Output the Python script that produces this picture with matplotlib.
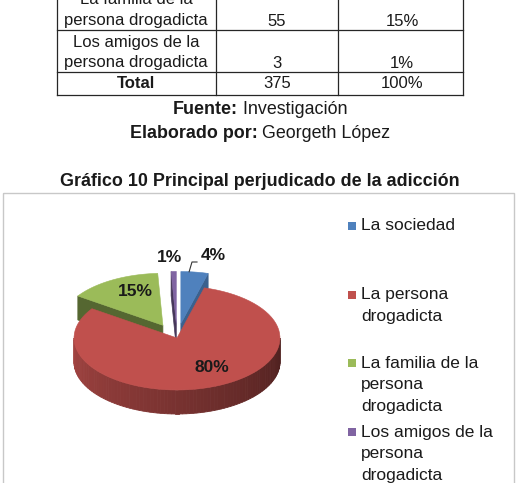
import numpy as np
import matplotlib.pyplot as plt
from matplotlib.patches import Polygon, Rectangle
from matplotlib.colors import to_rgb

plt.rcParams['font.family'] = ['Liberation Sans', 'DejaVu Sans']

# datos de la tabla (parte visible)
tabla_col1 = [['La familia de la', 'persona drogadicta'],
              ['Los amigos de la', 'persona drogadicta'],
              ['Total']]
tabla_frec = ['55', '3', '375']
tabla_pct = ['15%', '1%', '100%']

# datos del grafico
categorias = [['La sociedad'],
              ['La persona', 'drogadicta'],
              ['La familia de la', 'persona', 'drogadicta'],
              ['Los amigos de la', 'persona', 'drogadicta']]
frecuencia = [16, 301, 55, 3]
colores = ['#4F81BD', '#C0504D', '#9BBB59', '#8064A2']
explode = [0.28, 0.0, 0.28, 0.28]

fig = plt.figure(figsize=(5.16, 4.83), dpi=100)
ax = fig.add_axes([0, 0, 1, 1])
ax.set_xlim(0, 516)
ax.set_ylim(483, 0)
ax.axis('off')

txt = '#1a1a1a'

# ---- tabla ----
xs = [57, 216, 338, 463]
for y in [30, 72, 95]:
    ax.plot([xs[0], xs[-1]], [y, y], color='#262626', lw=0.9)
for x in xs:
    ax.plot([x, x], [-5, 95], color='#262626', lw=0.9)

fila_y = [0, 42, 84]
for i, lineas in enumerate(tabla_col1):
    peso = 'bold' if lineas[0] == 'Total' else 'normal'
    for j, l in enumerate(lineas):
        ax.text(136, fila_y[i] + 21 * j, l, ha='center', va='center',
                fontsize=12, color=txt, weight=peso)
    yb = fila_y[i] + 21 * (len(lineas) - 1)
    ax.text(277, yb, tabla_frec[i], ha='center', va='center', fontsize=12, color=txt)
    ax.text(402, yb, tabla_pct[i], ha='center', va='center', fontsize=12, color=txt)

# fuente / elaborado
def linea_mixta(y, negrita, normal):
    t1 = ax.text(0, y, negrita, fontsize=12.9, weight='bold', color=txt, va='center')
    t2 = ax.text(0, y, normal, fontsize=12.9, color=txt, va='center')
    fig.canvas.draw()
    r = fig.canvas.get_renderer()
    inv = ax.transData.inverted()
    w1 = t1.get_window_extent(r).width
    w2 = t2.get_window_extent(r).width
    x0 = 260 - (w1 + w2) / 2
    t1.set_x(x0)
    t2.set_x(x0 + w1)

linea_mixta(109, 'Fuente:', ' Investigación')
linea_mixta(133, 'Elaborado por:', ' Georgeth López')

ax.text(260, 182, 'Gráfico 10 Principal perjudicado de la adicción', ha='center',
        va='center', fontsize=12.9, weight='bold', color=txt)

# marco del grafico
ax.add_patch(Rectangle((3, 193), 511, 300, fill=False, ec='#C8C8C8', lw=1))

# ---- pastel 3D ----
total = sum(frecuencia)
angs = np.cumsum([0] + [f / total * 360 for f in frecuencia])
cx, cy, rx, ry, h = 177, 338, 103, 52, 24


def shade(c, f):
    r, g, b = to_rgb(c)
    return (r * f, g * f, b * f)


def punto(t, dx, dy, dz=0, r=1.0):
    t = np.radians(t)
    return (cx + dx + r * rx * np.sin(t), cy + dy - r * ry * np.cos(t) + dz)


for i in [2, 3, 0, 1]:
    s, e = angs[i], angs[i + 1]
    m = np.radians((s + e) / 2)
    dx = explode[i] * rx * np.sin(m)
    dy = -explode[i] * ry * np.cos(m)
    apex = (cx + dx, cy + dy)
    apex_b = (cx + dx, cy + dy + h)
    # paredes radiales
    if np.sin(np.radians(s)) < -1e-6:
        p = [apex, punto(s, dx, dy), punto(s, dx, dy, h), apex_b]
        ax.add_patch(Polygon(p, closed=True, fc=shade(colores[i], 0.55),
                             ec=shade(colores[i], 0.55), lw=0.5))
    if np.sin(np.radians(e)) > 1e-6:
        p = [apex, punto(e, dx, dy), punto(e, dx, dy, h), apex_b]
        ax.add_patch(Polygon(p, closed=True, fc=shade(colores[i], 0.75),
                             ec=shade(colores[i], 0.75), lw=0.5))
    # pared exterior (frente)
    a0, a1 = max(s, 90), min(e, 270)
    if a1 > a0:
        ts = np.linspace(a0, a1, 90)
        for k in range(len(ts) - 1):
            t0, t1 = ts[k], ts[k + 1]
            f = 0.85 - 0.45 * (270 - (t0 + t1) / 2) / 180
            c = shade(colores[i], f)
            p = [punto(t0, dx, dy), punto(t1, dx, dy),
                 punto(t1, dx, dy, h), punto(t0, dx, dy, h)]
            ax.add_patch(Polygon(p, closed=True, fc=c, ec=c, lw=0.6))
    # cara superior
    ts = np.linspace(s, e, 80)
    p = [apex] + [punto(t, dx, dy) for t in ts]
    ax.add_patch(Polygon(p, closed=True, fc=colores[i], ec=colores[i], lw=0.4))

# etiquetas de porcentaje
etiq_xy = [(213, 255), (212, 368), (135, 291), (169, 258)]
for i, f in enumerate(frecuencia):
    lx, ly = etiq_xy[i]
    ax.text(lx, ly, f'{round(f / total * 100)}%', ha='center', va='center',
            fontsize=12.5, weight='bold', color=txt)

# linea guia de la etiqueta de 4%
s, e = angs[0], angs[1]
m = np.radians((s + e) / 2)
p0 = punto(s + 0.3 * (e - s), explode[0] * rx * np.sin(m), -explode[0] * ry * np.cos(m))
lx, ly = etiq_xy[0]
ax.plot([p0[0], lx - 21, lx - 16], [p0[1], ly + 7, ly + 7], color='#333333', lw=0.8)

# leyenda
for i, lineas in enumerate(categorias):
    y0 = 226 + i * 68.7
    ax.add_patch(Rectangle((348, y0 - 4), 8, 8, fc=colores[i], ec='none'))
    for j, l in enumerate(lineas):
        ax.text(361, y0 + 21.5 * j, l, ha='left', va='center', fontsize=12.5, color=txt)

plt.savefig('out.png', dpi=100)
